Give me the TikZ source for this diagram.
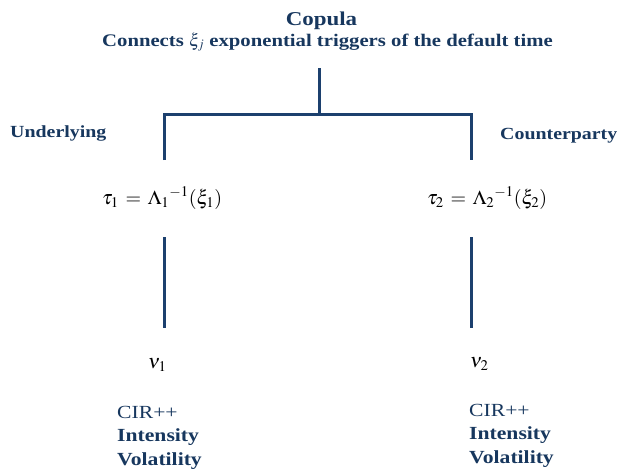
\documentclass[tikz,border=0pt]{standalone}
\usepackage{mathptmx}
\usepackage{fontspec}
\setmainfont{Liberation Serif}
\newfontfamily\lblfont[FakeStretch=1.17]{Liberation Serif}
\definecolor{navy}{RGB}{23,55,94}
\definecolor{linecol}{RGB}{28,64,110}
\begin{document}
\begin{tikzpicture}[x=1pt,y=-1pt,
  lbl/.style={text=navy,font=\lblfont\bfseries\fontsize{17}{19}\selectfont,inner sep=0pt,anchor=base west},
  formula/.style={font=\fontsize{20}{22}\selectfont,inner sep=0pt,anchor=base west},
  conn/.style={draw=linecol,line width=3pt}]
\useasboundingbox (0,0) rectangle (619,474);
\node[lbl,anchor=base,font=\lblfont\bfseries\fontsize{19.6}{22}\selectfont] (copula) at (321.5,25) {Copula};
\node[lbl,font=\lblfont\bfseries\fontsize{17.7}{20}\selectfont] (connects) at (102,46) {Connects $\xi_j$ exponential triggers of the default time};
\coordinate (top) at (319,68);
\coordinate (mid) at (319,114);
\coordinate (ltop) at (164,114);
\coordinate (rtop) at (471,114);
\coordinate (lbot) at (164,160);
\coordinate (rbot) at (471,160);
\draw[conn] (top) -- (mid);
\draw[conn] (lbot) -- (ltop) -- (rtop) -- (rbot);
\node[lbl] (under) at (10,137) {Underlying};
\node[lbl] (counter) at (500,139) {Counterparty};
\node[formula] (tau1) at (102,204) {$\tau_1\,=\,\Lambda_1{}^{-1}(\xi_1)$};
\node[formula] (tau2) at (427,204) {$\tau_2\,=\,\Lambda_2{}^{-1}(\xi_2)$};
\coordinate (l2a) at (164,237);
\coordinate (l2b) at (164,328);
\coordinate (r2a) at (471,237);
\coordinate (r2b) at (471,328);
\draw[conn] (l2a) -- (l2b);
\draw[conn] (r2a) -- (r2b);
\node[formula] (nu1) at (148,368) {$\nu_1$};
\node[formula] (nu2) at (470,367) {$\nu_2$};
\node[lbl,font=\lblfont\bfseries\fontsize{18.5}{23.5}\selectfont,align=left,anchor=north west] (left3) at (117,406) {\mdseries CIR++\\Intensity\\Volatility};
\node[lbl,font=\lblfont\bfseries\fontsize{18.5}{23.5}\selectfont,align=left,anchor=north west] (right3) at (469,404) {\mdseries CIR++\\Intensity\\Volatility};
\end{tikzpicture}
\end{document}
